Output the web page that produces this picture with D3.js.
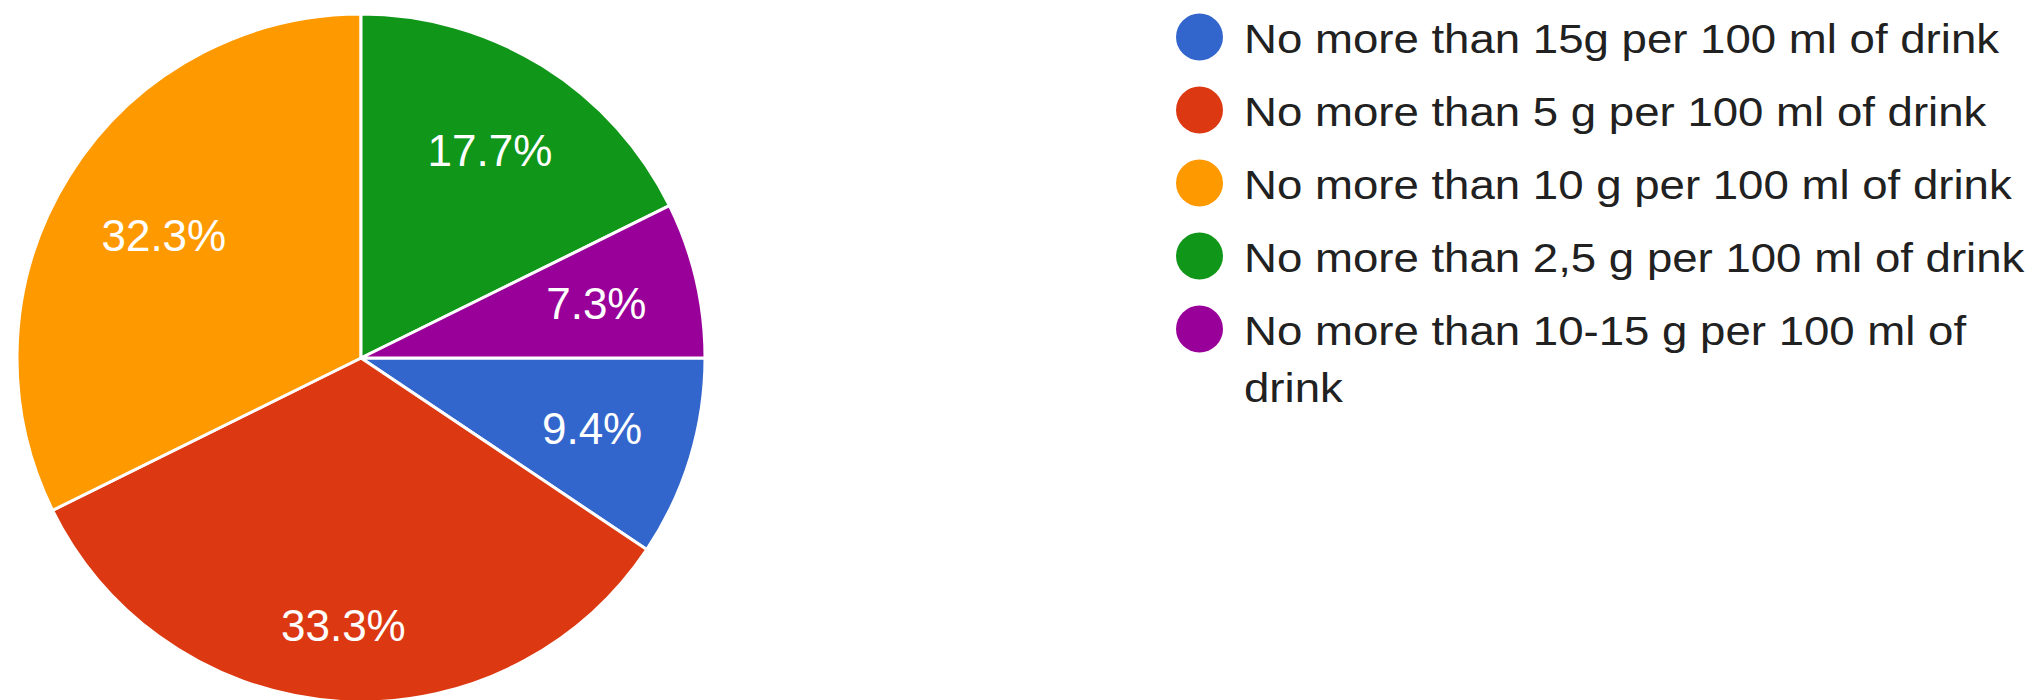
<!DOCTYPE html>
<html>
<head>
<meta charset="utf-8">
<script src="https://cdn.jsdelivr.net/npm/d3@7"></script>
<style>
  html, body { margin: 0; padding: 0; background: #ffffff; }
  svg { display: block; }
  text { font-family: Arial, "Liberation Sans", Helvetica, sans-serif; }
</style>
</head>
<body>
<svg id="chart" width="2040" height="700"></svg>
<script>
// Survey answers (share of respondents, %), in slice order clockwise from 3 o'clock
const categories = [
  "No more than 15g per 100 ml of drink",
  "No more than 5 g per 100 ml of drink",
  "No more than 10 g per 100 ml of drink",
  "No more than 2,5 g per 100 ml of drink",
  "No more than 10-15 g per 100 ml of drink"
];
const shares = [9.4, 33.3, 32.3, 17.7, 7.3];
const colors = ["#3366cc", "#dc3912", "#ff9900", "#109618", "#990099"];

const W = 2040, H = 700;
const cx = 361, cy = 358, radius = 344;
const labelFont = 44;
const labelReach = radius * 0.855;   // farthest corner of a label box from the centre

const svg = d3.select("#chart");

const data = categories.map((c, i) => ({ name: c, value: shares[i], color: colors[i] }));

const pie = d3.pie()
  .value(d => d.value)
  .sort(null)
  .startAngle(Math.PI / 2)
  .endAngle(Math.PI / 2 + 2 * Math.PI);

const arc = d3.arc().innerRadius(0).outerRadius(radius);
const arcs = pie(data);

const g = svg.append("g").attr("transform", `translate(${cx},${cy})`);

g.selectAll("path.slice")
  .data(arcs)
  .join("path")
  .attr("class", "slice")
  .attr("d", arc)
  .attr("fill", d => d.data.color)
  .attr("stroke", "#ffffff")
  .attr("stroke-width", 3)
  .attr("stroke-linejoin", "round");

// Percentage labels: pushed outward along the slice bisector until the box's far corner reaches labelReach
const labels = g.selectAll("text.pct")
  .data(arcs)
  .join("text")
  .attr("class", "pct")
  .attr("fill", "#ffffff")
  .attr("font-size", labelFont)
  .attr("text-anchor", "middle")
  .text(d => d.data.value.toFixed(1) + "%");

labels.each(function (d) {
  const w = this.getComputedTextLength();
  const h = labelFont * 0.716;
  const a = (d.startAngle + d.endAngle) / 2;
  const ux = Math.sin(a), uy = -Math.cos(a);
  const far = t => Math.hypot(Math.abs(t * ux) + w / 2, Math.abs(t * uy) + h / 2);
  let lo = 0, hi = radius;
  for (let k = 0; k < 40; k++) {
    const mid = (lo + hi) / 2;
    if (far(mid) < labelReach) lo = mid; else hi = mid;
  }
  const x = lo * ux, y = lo * uy;
  d3.select(this).attr("x", x).attr("y", y + h / 2);
});

// Legend
const legendX = 1199.5, dotR = 23.5, textX = 1244;
const legendFont = 40, legendStretch = 1.14;
const firstBaseline = 53, lineGap = 57, itemGap = 16;
const maxTextWidth = W - textX - 4;

const legend = svg.append("g");
let baseline = firstBaseline;

data.forEach(d => {
  const item = legend.append("g");
  item.append("circle")
    .attr("cx", legendX)
    .attr("cy", baseline - 16)
    .attr("r", dotR)
    .attr("fill", d.color);

  const tg = item.append("g")
    .attr("transform", `translate(${textX},${baseline}) scale(${legendStretch},1)`);
  const text = tg.append("text")
    .attr("font-size", legendFont)
    .attr("fill", "#212121");

  // word wrap within the space to the right edge
  const words = d.name.split(" ");
  let line = [];
  let lineIdx = 0;
  let tspan = text.append("tspan").attr("x", 0).attr("y", 0);
  words.forEach(word => {
    line.push(word);
    tspan.text(line.join(" "));
    if (tspan.node().getComputedTextLength() * legendStretch > maxTextWidth && line.length > 1) {
      line.pop();
      tspan.text(line.join(" "));
      line = [word];
      lineIdx++;
      tspan = text.append("tspan").attr("x", 0).attr("y", lineIdx * lineGap).text(word);
    }
  });
  baseline += (lineIdx + 1) * lineGap + itemGap;
});
</script>
</body>
</html>
